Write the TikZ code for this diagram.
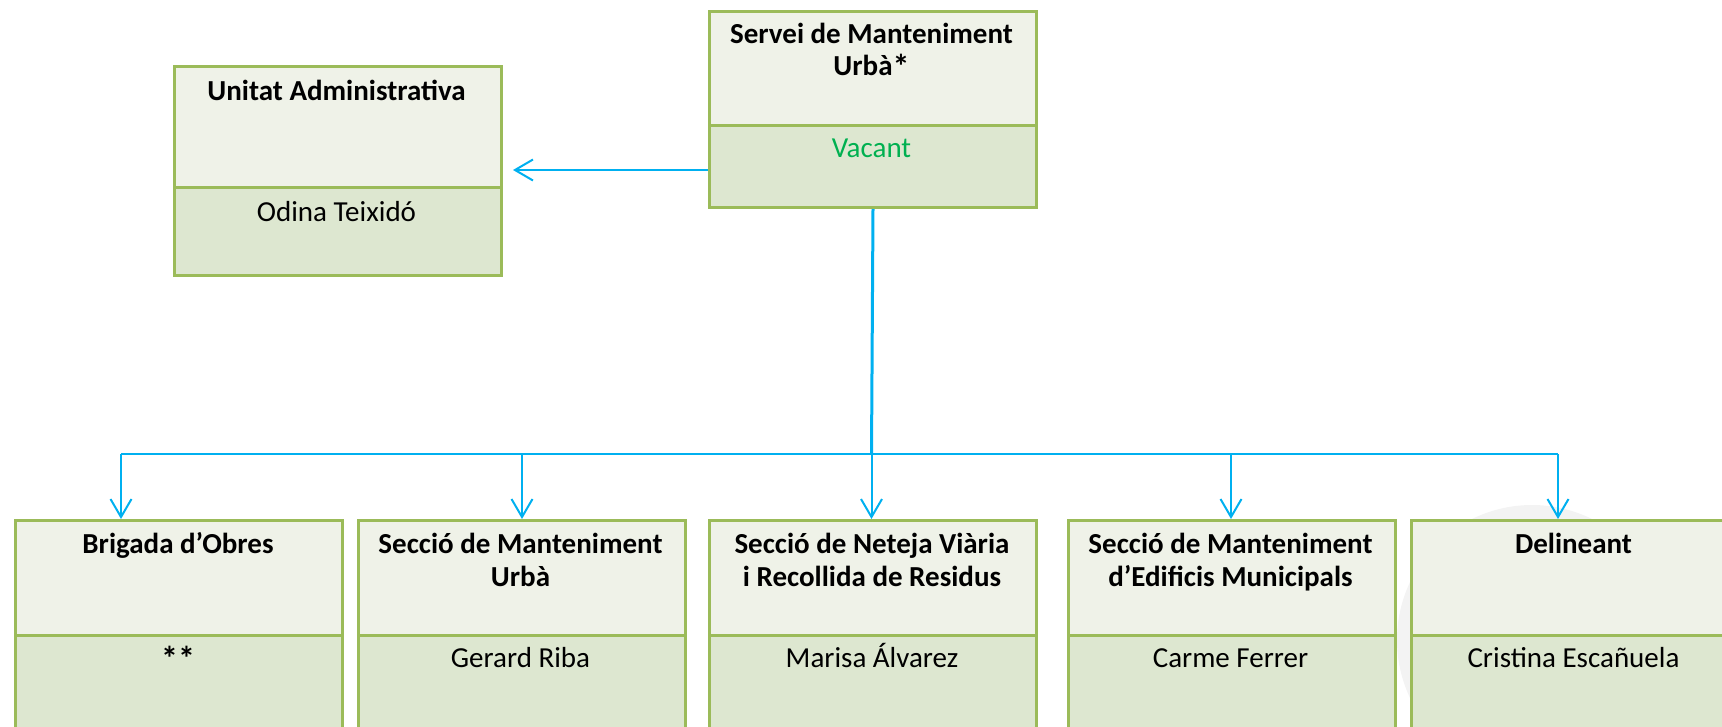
\documentclass[tikz,border=0pt]{standalone}
\usepackage{fontspec}
\setmainfont{Carlito}
\usetikzlibrary{arrows.meta}
\definecolor{boxline}{RGB}{155,187,89}
\definecolor{headfill}{RGB}{239,242,232}
\definecolor{namefill}{RGB}{221,231,208}
\definecolor{conncol}{RGB}{0,176,240}
\definecolor{vacant}{RGB}{0,176,80}
\definecolor{wmark}{RGB}{243,243,243}
\newcommand{\bigast}{{\fontsize{34}{32}\selectfont\bfseries\raisebox{-3pt}{*}}}
\tikzset{
  headcell/.style={draw=boxline, line width=3pt, fill=headfill, rectangle, inner sep=0pt, anchor=north west, minimum width=327pt},
  namecell/.style={draw=boxline, line width=3pt, fill=namefill, rectangle, inner sep=0pt, anchor=north west, minimum width=327pt},
  titletext/.style={anchor=base, inner sep=0pt, font=\fontsize{29}{32}\selectfont\bfseries},
  nametext/.style={anchor=base, inner sep=0pt, font=\fontsize{29}{32}\selectfont},
  conn/.style={draw=conncol, line width=2pt},
  mainconn/.style={draw=conncol, line width=3pt},
  arrowconn/.style={draw=conncol, line width=2pt, -{Straight Barb[length=18pt,width=21pt]}}
}
\begin{document}
\begin{tikzpicture}[x=1pt,y=-1pt]
\useasboundingbox (0,0) rectangle (1722,726);
\clip (0,0) rectangle (1722,726);
% faint watermark
\fill[wmark] (1532,640) circle (135);

% top box
\node[headcell, minimum height=114pt] (sA) at (708,10) {};
\node[namecell, minimum height=82pt] (sB) at (708,124) {};
\node[titletext] (sT1) at (871.5,43) {Servei de Manteniment};
\node[titletext] (sT2) at (871.5,75) {Urbà\bigast};
\node[nametext, text=vacant] (sN) at (871.5,157) {Vacant};

% Unitat Administrativa
\node[headcell, minimum height=121pt] (uA) at (173,65) {};
\node[namecell, minimum height=88pt] (uB) at (173,186) {};
\node[titletext] (uT) at (336.5,100) {Unitat Administrativa};
\node[nametext] (uN) at (336.5,221) {Odina Teixidó};

% bottom boxes
\node[headcell, minimum height=115pt] (b1A) at (14,519) {};
\node[namecell, minimum height=120pt] (b1B) at (14,634) {};
\node[titletext] (b1T) at (178,553) {Brigada d’Obres};
\node[nametext] (b1N) at (178,667) {\bigast\bigast};

\node[headcell, minimum height=115pt] (b2A) at (357,519) {};
\node[namecell, minimum height=120pt] (b2B) at (357,634) {};
\node[titletext] (b2T1) at (520.5,553) {Secció de Manteniment};
\node[titletext] (b2T2) at (520.5,586) {Urbà};
\node[nametext] (b2N) at (520.5,667) {Gerard Riba};

\node[headcell, minimum height=115pt] (b3A) at (708,519) {};
\node[namecell, minimum height=120pt] (b3B) at (708,634) {};
\node[titletext] (b3T1) at (872,553) {Secció de Neteja Viària};
\node[titletext] (b3T2) at (872,586) {i Recollida de Residus};
\node[nametext] (b3N) at (872,667) {Marisa Álvarez};

\node[headcell, minimum height=115pt] (b4A) at (1067,519) {};
\node[namecell, minimum height=120pt] (b4B) at (1067,634) {};
\node[titletext] (b4T1) at (1230.5,553) {Secció de Manteniment};
\node[titletext] (b4T2) at (1230.5,586) {d’Edificis Municipals};
\node[nametext] (b4N) at (1230.5,667) {Carme Ferrer};

\node[headcell, minimum height=115pt] (b5A) at (1410,519) {};
\node[namecell, minimum height=120pt] (b5B) at (1410,634) {};
\node[titletext] (b5T) at (1573.5,553) {Delineant};
\node[nametext] (b5N) at (1573.5,667) {Cristina Escañuela};

% connectors
\coordinate (uarr) at (513,170);
\coordinate (bus) at (871.5,454);
\coordinate (j1) at (121,454);
\coordinate (j2) at (522,454);
\coordinate (j3) at (871.5,454);
\coordinate (j4) at (1231,454);
\coordinate (j5) at (1558,454);

\draw[arrowconn] (sB.west |- uarr) -- (uarr);
\draw[mainconn] (sB.south) -- (bus);
\draw[conn] (j1) -- (j5);
\draw[arrowconn] (j1) -- (j1 |- b1A.north);
\draw[arrowconn] (j2) -- (j2 |- b2A.north);
\draw[arrowconn] (j3) -- (j3 |- b3A.north);
\draw[arrowconn] (j4) -- (j4 |- b4A.north);
\draw[arrowconn] (j5) -- (j5 |- b5A.north);
\end{tikzpicture}
\end{document}
